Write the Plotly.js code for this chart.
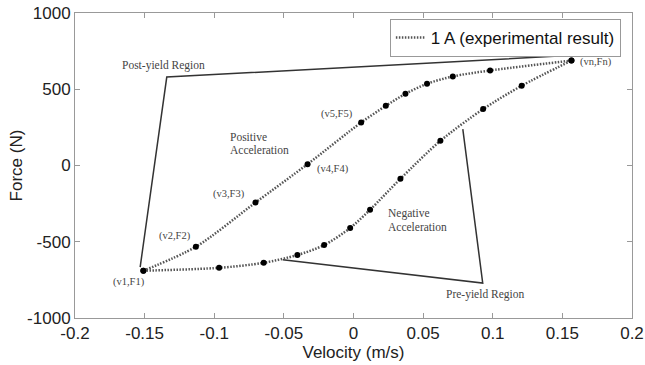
<!DOCTYPE html>
<html>
<head>
<meta charset="utf-8">
<script src="https://cdn.plot.ly/plotly-3.0.1.min.js"></script>
<style>html,body{margin:0;padding:0;background:#fff;}#chart{width:645px;height:365px;}</style>
</head>
<body>
<div id="chart"></div>
<script>
// Upper branch (positive acceleration), v1 -> vn
var upperV = [-0.1509, -0.1132, -0.0704, -0.0330, 0.0055, 0.0232, 0.0373, 0.0528, 0.0713, 0.0981, 0.1565];
var upperF = [-690, -533, -243, 9, 282, 391, 470, 536, 584, 623, 688];
// Lower branch (negative acceleration), v1 -> vn
var lowerV = [-0.1509, -0.0965, -0.0645, -0.0403, -0.0211, -0.0024, 0.0119, 0.0337, 0.0624, 0.0931, 0.1208, 0.1565];
var lowerF = [-690, -671, -638, -587, -522, -410, -290, -87, 162, 370, 523, 688];
// Region outlines
var postYieldV = [-0.1532, -0.1341, 0.1507];
var postYieldF = [-666, 580, 719];
var preYieldV = [-0.0508, 0.0928, 0.0785];
var preYieldF = [-618, -771, 239];
// Labels
var labelText = ["Post-yield Region", "Positive", "Acceleration", "(v5,F5)", "(v4,F4)", "(v3,F3)", "(v2,F2)", "(v1,F1)", "(vn,Fn)", "Negative", "Acceleration", "Pre-yield Region"];
var labelV = [-0.1364, -0.0900, -0.0900, -0.0118, -0.0146, -0.0897, -0.1284, -0.1615, 0.1745, 0.0232, 0.0232, 0.0945];
var labelF = [654, 184, 103, 339, -22, -184, -459, -763, 682, -312, -400, -848];
var labelAnchor = ["center", "left", "left", "center", "center", "center", "center", "center", "center", "left", "left", "center"];
var labelSize = [11.5, 11.5, 11.5, 10.5, 10.5, 10.5, 10.5, 10.5, 10.5, 11.5, 11.5, 11.5];
var xTicks = [-0.2, -0.15, -0.1, -0.05, 0, 0.05, 0.1, 0.15, 0.2];
var yTicks = [-1000, -500, 0, 500, 1000];

var lineStyle = {color: '#555', width: 2.5, dash: '1.5px,1.5px', shape: 'spline', smoothing: 0.8};
var traces = [
  {x: postYieldV, y: postYieldF, mode: 'lines', line: {color: '#333', width: 1.5}, showlegend: false, hoverinfo: 'skip'},
  {x: preYieldV, y: preYieldF, mode: 'lines', line: {color: '#333', width: 1.5}, showlegend: false, hoverinfo: 'skip'},
  {x: upperV, y: upperF, mode: 'lines', line: lineStyle, name: '1 A (experimental result)', showlegend: true},
  {x: lowerV, y: lowerF, mode: 'lines', line: lineStyle, showlegend: false},
  {x: upperV.concat(lowerV), y: upperF.concat(lowerF), mode: 'markers', marker: {color: '#000', size: 6}, showlegend: false}
];

var annotations = labelText.map(function(t, i) {
  return {x: labelV[i], y: labelF[i], xref: 'x', yref: 'y', text: t, showarrow: false,
    xanchor: labelAnchor[i], yanchor: 'middle',
    font: {family: 'Liberation Serif, Times New Roman, serif', size: labelSize[i], color: '#444'}};
});

var axisCommon = {
  showgrid: false, zeroline: false, showline: true, linecolor: '#999', linewidth: 1,
  mirror: 'ticks', ticks: 'inside', ticklen: 5, tickcolor: '#999',
  tickfont: {family: 'Liberation Sans, Arial, sans-serif', size: 17, color: '#222'}
};

var layout = {
  width: 645, height: 365,
  margin: {l: 75, r: 13, t: 13, b: 47},
  paper_bgcolor: '#fff', plot_bgcolor: '#fff',
  font: {family: 'Liberation Sans, Arial, sans-serif', size: 17, color: '#222'},
  xaxis: Object.assign({}, axisCommon, {range: [-0.2, 0.2], tickvals: xTicks, ticktext: xTicks.map(String),
    title: {text: 'Velocity (m/s)', font: {size: 17, color: '#222'}, standoff: 0}}),
  yaxis: Object.assign({}, axisCommon, {range: [-1000, 1000], tickvals: yTicks, ticktext: yTicks.map(String),
    title: {text: 'Force (N)', font: {size: 17, color: '#222'}, standoff: 0}}),
  showlegend: true,
  legend: {x: 0.98, y: 0.918, xanchor: 'right', yanchor: 'middle', bgcolor: '#fff', bordercolor: '#999', borderwidth: 1,
    font: {size: 17, color: '#111'}, itemwidth: 30, tracegroupgap: 0},
  annotations: annotations
};

Plotly.newPlot('chart', traces, layout, {displayModeBar: false, staticPlot: true});
</script>
</body>
</html>
